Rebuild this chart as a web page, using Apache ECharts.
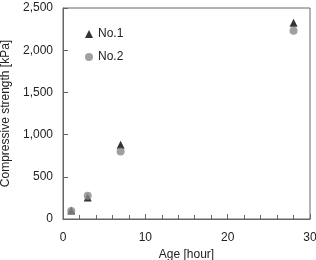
<!DOCTYPE html>
<html>
<head>
<meta charset="utf-8">
<script src="https://cdn.jsdelivr.net/npm/echarts@6/dist/echarts.min.js"></script>
<style>
  html, body { margin: 0; padding: 0; background: #fff; }
  #chart { width: 316px; height: 260px; }
</style>
</head>
<body>
<div id="chart"></div>
<script>
// data
const ages = [1, 3, 7, 28];
const no1 = [100, 255, 880, 2325];
const no2 = [95, 275, 800, 2230];
const seriesNames = ['No.1', 'No.2'];

const chart = echarts.init(document.getElementById('chart'));
const font = 'Liberation Sans, Arial, sans-serif';
const axisColor = '#666';

const pairs = (xs, ys) => xs.map((x, i) => [x, ys[i]]);

chart.setOption({
    animation: false,
    textStyle: { fontFamily: font },
    grid: {
        left: 63, right: 6, top: 8, bottom: 41,
        outerBoundsMode: 'none',
        containLabel: false,
        show: true, borderColor: axisColor, borderWidth: 1
    },
    legend: {
        orient: 'vertical',
        left: 80, top: 23,
        itemWidth: 8, itemHeight: 8, itemGap: 11,
        textStyle: { fontSize: 12, color: '#222', fontFamily: font },
        data: [
            { name: seriesNames[0], icon: 'triangle' },
            { name: seriesNames[1], icon: 'circle' }
        ]
    },
    xAxis: {
        type: 'value',
        min: 0, max: 30, interval: 10,
        name: 'Age [hour]',
        nameLocation: 'middle',
        nameGap: 25,
        nameTextStyle: { fontSize: 12, color: '#222' },
        axisLine: { lineStyle: { color: axisColor } },
        axisTick: { inside: true, length: 5, lineStyle: { color: axisColor } },
        minorTick: { show: true, splitNumber: 5, length: 4, lineStyle: { color: axisColor } },
        axisLabel: { fontSize: 12, color: '#222', margin: 13 },
        splitLine: { show: false }
    },
    yAxis: {
        type: 'value',
        min: 0, max: 2500, interval: 500,
        name: 'Compressive strength [kPa]',
        nameLocation: 'middle',
        nameGap: 46,
        nameTextStyle: { fontSize: 12, color: '#222' },
        axisLine: { show: true, lineStyle: { color: axisColor } },
        axisTick: { show: true, inside: true, length: 5, lineStyle: { color: axisColor } },
        axisLabel: {
            fontSize: 12, color: '#222', margin: 10,
            formatter: v => v.toLocaleString('en-US')
        },
        splitLine: { show: false }
    },
    series: [
        {
            name: seriesNames[0],
            type: 'scatter',
            symbol: 'triangle',
            symbolSize: 8,
            itemStyle: { color: '#000' },
            data: pairs(ages, no1)
        },
        {
            name: seriesNames[1],
            type: 'scatter',
            symbol: 'circle',
            symbolSize: 8,
            itemStyle: { color: '#888' },
            data: pairs(ages, no2)
        }
    ]
});
</script>
</body>
</html>
